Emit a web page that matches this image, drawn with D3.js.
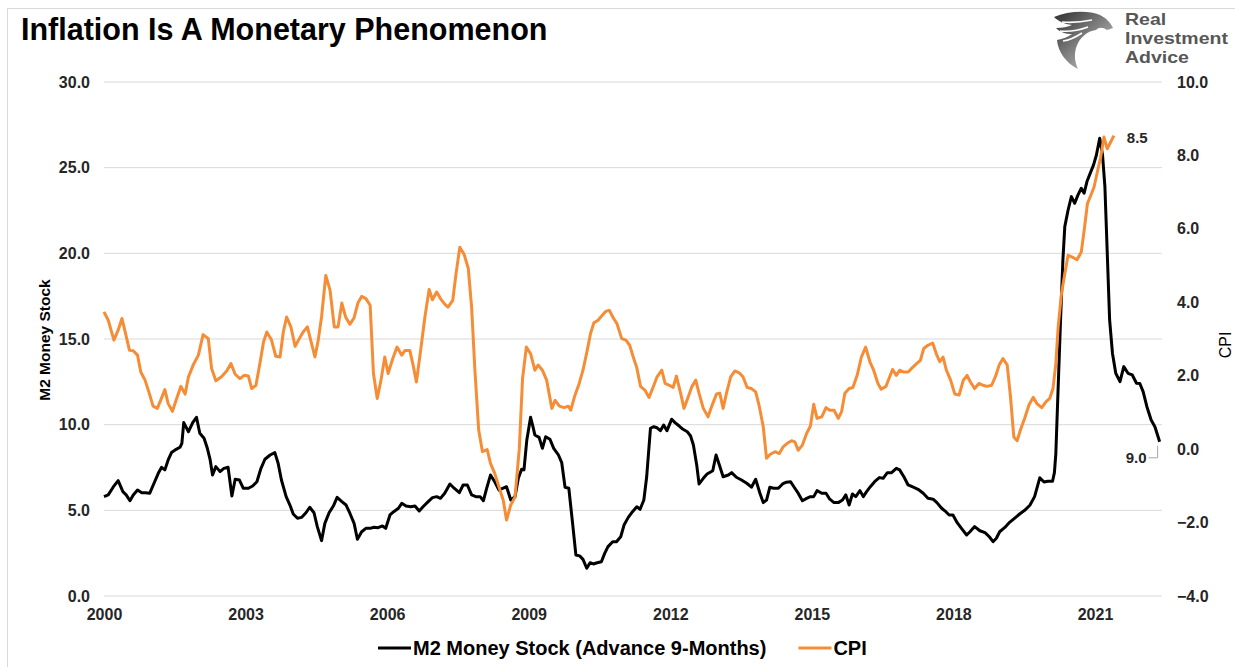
<!DOCTYPE html>
<html>
<head>
<meta charset="utf-8">
<script src="https://cdn.jsdelivr.net/npm/d3@7"></script>
<style>
  body { margin: 0; background: #fff; }
  svg { display: block; font-family: Arial, "Liberation Sans", sans-serif; }
</style>
</head>
<body>
<svg id="chart" width="1235" height="667"></svg>
<script>
// chart text
const title = "Inflation Is A Monetary Phenomenon";
const m2Label = "M2 Money Stock (Advance 9-Months)";
const cpiLabel = "CPI";
const leftTitle = "M2 Money Stock";
const rightTitle = "CPI";
const brandLines = ["Real", "Investment", "Advice"];

// ticks
const yearTicks = [0, 3, 6, 9, 12, 15, 18, 21]; // years since 2000
const leftTicks = [0, 5, 10, 15, 20, 25, 30];
const rightTicks = [-4, -2, 0, 2, 4, 6, 8, 10];

// [years since Jan 2000, value]
const m2Points = [
  [0.00,5.80],[0.09,5.90],[0.20,6.38],[0.30,6.73],[0.40,6.09],[0.47,5.90],[0.55,5.56],[0.62,5.90],[0.71,6.19],[0.80,6.03],
  [0.88,6.03],[0.97,6.00],[1.06,6.58],[1.15,7.16],[1.22,7.51],[1.29,7.36],[1.36,7.94],[1.43,8.37],[1.53,8.56],[1.61,8.68],
  [1.65,8.91],[1.69,10.12],[1.79,9.59],[1.88,10.12],[1.96,10.43],[2.03,9.50],[2.12,9.21],[2.19,8.62],[2.25,7.94],[2.30,7.06],
  [2.37,7.55],[2.46,7.26],[2.54,7.45],[2.63,7.51],[2.71,5.84],[2.78,6.81],[2.87,6.77],[2.95,6.29],[3.06,6.29],[3.15,6.42],
  [3.24,6.67],[3.32,7.40],[3.41,7.98],[3.52,8.23],[3.62,8.37],[3.69,7.75],[3.76,6.77],[3.86,5.80],[3.94,5.31],[4.01,4.79],
  [4.10,4.54],[4.19,4.59],[4.28,4.86],[4.36,5.18],[4.45,4.86],[4.52,4.05],[4.61,3.23],[4.68,4.24],[4.77,4.86],[4.86,5.25],
  [4.94,5.76],[5.04,5.51],[5.13,5.31],[5.21,4.83],[5.30,4.24],[5.37,3.31],[5.46,3.75],[5.55,3.95],[5.64,3.95],[5.72,4.01],
  [5.81,3.99],[5.90,4.09],[5.97,3.95],[6.06,4.73],[6.14,4.92],[6.24,5.12],[6.31,5.41],[6.40,5.25],[6.50,5.21],[6.59,5.25],
  [6.68,4.96],[6.76,5.21],[6.87,5.51],[6.96,5.74],[7.05,5.80],[7.13,5.70],[7.22,6.00],[7.33,6.54],[7.42,6.29],[7.53,6.03],
  [7.61,6.48],[7.70,6.48],[7.79,5.90],[7.88,5.80],[7.97,5.80],[8.04,5.56],[8.11,6.29],[8.19,7.06],[8.28,6.67],[8.37,6.19],
  [8.46,6.29],[8.53,6.38],[8.62,5.60],[8.71,5.80],[8.78,6.87],[8.85,7.40],[8.90,7.36],[8.96,9.11],[9.04,10.43],[9.09,9.88],
  [9.13,9.40],[9.22,9.26],[9.29,8.62],[9.36,9.30],[9.45,9.15],[9.53,8.62],[9.63,8.23],[9.70,7.78],[9.77,6.35],[9.85,6.29],
  [9.93,4.24],[10.00,2.39],[10.08,2.34],[10.15,2.14],[10.23,1.62],[10.30,1.94],[10.37,1.87],[10.45,1.94],[10.54,2.00],[10.61,2.49],
  [10.68,2.88],[10.78,3.17],[10.86,3.17],[10.95,3.46],[11.02,4.14],[11.11,4.59],[11.20,4.92],[11.29,5.21],[11.36,5.06],[11.44,5.60],
  [11.50,6.96],[11.58,9.79],[11.65,9.88],[11.72,9.82],[11.79,9.65],[11.86,9.98],[11.93,9.65],[12.03,10.32],[12.10,10.12],[12.19,9.92],
  [12.27,9.73],[12.36,9.59],[12.43,9.34],[12.49,8.81],[12.56,7.65],[12.61,6.54],[12.70,6.87],[12.78,7.12],[12.90,7.31],[12.97,8.23],
  [13.04,7.65],[13.12,6.96],[13.23,7.06],[13.30,7.20],[13.40,6.93],[13.51,6.77],[13.62,6.58],[13.72,6.35],[13.81,6.81],[13.90,6.00],
  [13.97,5.45],[14.04,5.60],[14.11,6.35],[14.19,6.29],[14.29,6.29],[14.38,6.54],[14.46,6.64],[14.55,6.67],[14.64,6.29],[14.71,6.00],
  [14.80,5.56],[14.89,5.70],[14.97,5.80],[15.04,5.80],[15.11,6.15],[15.21,6.00],[15.30,6.00],[15.38,5.65],[15.47,5.45],[15.56,5.45],
  [15.65,5.60],[15.72,5.90],[15.79,5.31],[15.86,5.95],[15.93,5.80],[16.02,6.15],[16.09,5.80],[16.16,6.09],[16.24,6.38],[16.33,6.67],
  [16.43,6.91],[16.51,6.87],[16.60,7.20],[16.69,7.20],[16.79,7.45],[16.86,7.36],[16.95,6.96],[17.04,6.48],[17.15,6.35],[17.25,6.23],
  [17.36,6.00],[17.46,5.70],[17.57,5.65],[17.65,5.45],[17.75,5.12],[17.84,4.92],[17.91,4.73],[17.99,4.73],[18.08,4.28],[18.17,3.95],
  [18.28,3.56],[18.35,3.75],[18.45,4.05],[18.56,3.81],[18.67,3.70],[18.76,3.46],[18.84,3.17],[18.91,3.37],[18.98,3.75],[19.09,4.00],
  [19.19,4.30],[19.30,4.55],[19.41,4.80],[19.51,5.00],[19.62,5.30],[19.72,5.80],[19.83,6.90],[19.92,6.65],[20.00,6.70],[20.10,6.70],
  [20.14,7.20],[20.17,8.30],[20.22,12.22],[20.27,16.11],[20.32,19.61],[20.36,21.56],[20.43,22.53],[20.50,23.31],[20.57,22.92],[20.64,23.41],
  [20.71,23.80],[20.77,23.51],[20.83,24.19],[20.90,24.68],[20.97,25.16],[21.03,25.74],[21.10,26.72],[21.16,25.74],[21.21,23.89],[21.26,20.01],
  [21.31,16.11],[21.37,14.17],[21.44,13.00],[21.53,12.51],[21.61,13.39],[21.70,13.00],[21.79,12.90],[21.88,12.42],[21.95,12.40],[22.02,11.93],
  [22.10,11.05],[22.19,10.27],[22.27,9.88],[22.37,9.00]
];

const cpiPoints = [
  [0.00,3.74],[0.09,3.51],[0.21,2.97],[0.30,3.24],[0.38,3.56],[0.44,3.24],[0.54,2.69],[0.62,2.68],[0.71,2.56],[0.78,2.10],
  [0.87,1.88],[0.96,1.52],[1.04,1.17],[1.13,1.11],[1.20,1.33],[1.29,1.62],[1.36,1.24],[1.45,1.03],[1.54,1.38],[1.63,1.71],
  [1.72,1.50],[1.79,1.97],[1.89,2.29],[2.00,2.56],[2.10,3.12],[2.21,3.01],[2.28,2.20],[2.37,1.86],[2.49,1.97],[2.60,2.13],
  [2.69,2.33],[2.78,2.04],[2.88,1.92],[2.97,2.01],[3.06,1.99],[3.13,1.65],[3.22,1.74],[3.31,2.38],[3.38,2.92],[3.45,3.19],
  [3.55,2.97],[3.64,2.53],[3.73,2.51],[3.80,3.19],[3.87,3.60],[3.96,3.33],[4.05,2.80],[4.14,3.01],[4.22,3.19],[4.31,3.33],
  [4.38,2.97],[4.47,2.51],[4.54,2.97],[4.61,3.60],[4.70,4.73],[4.79,4.33],[4.88,3.33],[4.96,3.33],[5.04,3.98],[5.12,3.60],
  [5.21,3.40],[5.30,3.58],[5.38,3.98],[5.46,4.16],[5.55,4.10],[5.64,3.92],[5.71,2.06],[5.79,1.38],[5.87,1.88],[5.95,2.51],
  [6.02,2.06],[6.12,2.47],[6.21,2.78],[6.31,2.56],[6.38,2.69],[6.48,2.69],[6.55,2.29],[6.62,1.83],[6.71,2.69],[6.80,3.60],
  [6.89,4.35],[6.96,4.07],[7.05,4.28],[7.13,4.10],[7.22,3.95],[7.29,3.87],[7.39,4.05],[7.46,4.78],[7.54,5.50],[7.63,5.31],
  [7.72,4.92],[7.79,3.87],[7.86,2.15],[7.94,0.52],[8.02,-0.07],[8.12,-0.01],[8.19,-0.39],[8.28,-0.66],[8.37,-1.03],[8.46,-1.39],
  [8.53,-1.93],[8.62,-1.52],[8.71,-1.30],[8.80,0.00],[8.87,1.93],[8.95,2.78],[9.04,2.60],[9.13,2.15],[9.20,2.29],[9.29,2.15],
  [9.38,1.88],[9.49,1.11],[9.56,1.33],[9.65,1.17],[9.75,1.13],[9.84,1.17],[9.89,1.06],[9.98,1.47],[10.07,1.79],[10.15,2.15],
  [10.24,2.69],[10.31,3.15],[10.38,3.44],[10.47,3.51],[10.54,3.62],[10.64,3.76],[10.71,3.78],[10.79,3.58],[10.87,3.42],[10.97,3.01],
  [11.06,2.97],[11.14,2.83],[11.21,2.53],[11.29,2.22],[11.37,1.71],[11.46,1.61],[11.55,1.41],[11.64,1.70],[11.72,1.97],[11.82,2.15],
  [11.89,1.79],[11.98,1.74],[12.06,1.68],[12.13,1.99],[12.22,1.52],[12.29,1.11],[12.38,1.42],[12.46,1.71],[12.54,1.88],[12.61,1.52],
  [12.70,1.11],[12.80,0.88],[12.90,1.24],[12.98,1.50],[13.05,1.52],[13.12,1.11],[13.19,1.52],[13.28,1.97],[13.37,2.13],[13.46,2.08],
  [13.54,1.97],[13.63,1.68],[13.72,1.65],[13.81,1.56],[13.88,1.20],[13.97,0.61],[14.04,-0.25],[14.12,-0.14],[14.22,-0.07],[14.31,-0.12],
  [14.39,0.06],[14.48,0.16],[14.57,0.23],[14.64,0.20],[14.71,-0.03],[14.80,0.11],[14.89,0.43],[14.97,0.63],[15.04,1.22],[15.11,0.84],
  [15.21,0.88],[15.30,1.13],[15.38,1.06],[15.47,1.06],[15.56,0.84],[15.63,1.02],[15.70,1.52],[15.79,1.65],[15.87,1.68],[15.96,2.01],
  [16.05,2.51],[16.14,2.78],[16.23,2.38],[16.31,2.15],[16.40,1.79],[16.47,1.63],[16.57,1.71],[16.65,1.97],[16.71,2.17],[16.79,2.01],
  [16.86,2.15],[16.95,2.10],[17.04,2.10],[17.13,2.22],[17.22,2.33],[17.30,2.42],[17.37,2.74],[17.46,2.83],[17.56,2.89],[17.64,2.59],
  [17.71,2.38],[17.78,2.51],[17.85,2.15],[17.94,1.88],[18.03,1.50],[18.12,1.47],[18.21,1.88],[18.29,2.01],[18.36,1.83],[18.45,1.65],
  [18.54,1.79],[18.63,1.74],[18.71,1.71],[18.81,1.74],[18.90,2.01],[18.97,2.29],[19.05,2.47],[19.14,2.29],[19.21,1.42],[19.28,0.33],
  [19.35,0.23],[19.42,0.52],[19.51,0.84],[19.60,1.20],[19.69,1.41],[19.77,1.24],[19.87,1.13],[19.96,1.29],[20.04,1.38],[20.11,1.65],
  [20.17,2.33],[20.22,3.33],[20.29,4.24],[20.36,4.78],[20.43,5.28],[20.52,5.23],[20.62,5.16],[20.71,5.37],[20.78,6.05],[20.84,6.69],
  [20.91,6.91],[20.98,7.14],[21.05,7.55],[21.12,7.95],[21.19,8.50],[21.26,8.18],[21.33,8.36],[21.40,8.54]
];

const m2LastLabel = "9.0";
const cpiLastLabel = "8.5";

const svg = d3.select("#chart");
const plot = { left: 104, right: 1162, top: 82, bottom: 596 };

const x = d3.scaleLinear().domain([0, 22.42]).range([plot.left, plot.right]);
const yLeft = d3.scaleLinear().domain([0, 30]).range([plot.bottom, plot.top]);
const yRight = d3.scaleLinear().domain([-4, 10]).range([plot.bottom, plot.top]);

// outer frame
svg.append("rect")
  .attr("x", 7.5).attr("y", 8.5)
  .attr("width", 1240).attr("height", 680)
  .attr("fill", "none").attr("stroke", "#d9d9d9");

// title
svg.append("text")
  .attr("x", 21).attr("y", 40)
  .attr("font-size", 30.5).attr("font-weight", "bold").attr("fill", "#000")
  .text(title);

// logo
const defs = svg.append("defs");
const grad = defs.append("linearGradient").attr("id", "eagleGrad")
  .attr("x1", "0%").attr("y1", "0%").attr("x2", "100%").attr("y2", "100%");
grad.append("stop").attr("offset", "0%").attr("stop-color", "#2e2e2e");
grad.append("stop").attr("offset", "55%").attr("stop-color", "#8a8a8a");
grad.append("stop").attr("offset", "100%").attr("stop-color", "#d4d4d4");

const logo = svg.append("g").attr("transform", "translate(1054,11)");
logo.append("path")
  .attr("d", "M0,6 C14,0 34,-1 46,4 C52,7 56,11 59,17 L53,19 C49,16 45,16 42,19 C33,20 25,27 22,37 C20,45 21,51 24,58 C12,52 4,41 3,29 C9,28 14,26 18,23 C11,23 6,21 2,17 C8,17 14,16 18,14 C10,13 4,10 0,6 Z")
  .attr("fill", "url(#eagleGrad)");
logo.append("path")
  .attr("d", "M8,11 C18,12 28,11 38,9 M6,20 C16,21 26,19 34,16 M9,30 C16,29 22,26 28,22")
  .attr("fill", "none").attr("stroke", "#fff").attr("stroke-width", 1.6);

// brand text: tall-tight stack, drawn smaller and stretched to the wide look
const brand = svg.append("g")
  .selectAll("text")
  .data(brandLines)
  .join("text")
  .attr("x", 1125)
  .attr("y", (d, i) => 25 + i * 19)
  .attr("font-size", 16.5).attr("font-weight", "bold").attr("fill", "#575757")
  .text((d) => d);
brand.each(function () {
  const w = this.getComputedTextLength();
  d3.select(this).attr("textLength", w * 19.5 / 16.5).attr("lengthAdjust", "spacingAndGlyphs");
});

// gridlines (left axis)
svg.append("g")
  .selectAll("line")
  .data(leftTicks)
  .join("line")
  .attr("x1", plot.left).attr("x2", plot.right)
  .attr("y1", (d) => yLeft(d)).attr("y2", (d) => yLeft(d))
  .attr("stroke", "#d9d9d9").attr("stroke-width", 1);

// axes
function styleAxis(g) {
  g.select(".domain").remove();
  g.selectAll("text")
    .attr("font-family", "Arial, 'Liberation Sans', sans-serif")
    .attr("font-size", 16).attr("font-weight", "bold").attr("fill", "#262626");
}

svg.append("g")
  .attr("transform", `translate(${plot.left},0)`)
  .call(d3.axisLeft(yLeft).tickValues(leftTicks).tickFormat(d3.format(".1f")).tickSize(0).tickPadding(14))
  .call(styleAxis);

svg.append("g")
  .attr("transform", `translate(${plot.right},0)`)
  .call(d3.axisRight(yRight).tickValues(rightTicks).tickFormat(d3.format(".1f")).tickSize(0).tickPadding(15))
  .call(styleAxis);

svg.append("g")
  .attr("transform", `translate(0,${plot.bottom})`)
  .call(d3.axisBottom(x).tickValues(yearTicks).tickFormat((d) => 2000 + d).tickSize(0).tickPadding(13))
  .call(styleAxis);

// axis titles
svg.append("text")
  .attr("transform", "translate(50,340) rotate(-90)")
  .attr("text-anchor", "middle")
  .attr("font-size", 15.5).attr("font-weight", "bold").attr("fill", "#000")
  .text(leftTitle);

svg.append("text")
  .attr("transform", "translate(1231,345) rotate(-90)")
  .attr("text-anchor", "middle")
  .attr("font-size", 16).attr("fill", "#000")
  .text(rightTitle);

// series
const m2Line = d3.line().x((d) => x(d[0])).y((d) => yLeft(d[1]));
const cpiLine = d3.line().x((d) => x(d[0])).y((d) => yRight(d[1]));

svg.append("path")
  .datum(m2Points)
  .attr("d", m2Line)
  .attr("fill", "none").attr("stroke", "#000")
  .attr("stroke-width", 3).attr("stroke-linejoin", "round");

svg.append("path")
  .datum(cpiPoints)
  .attr("d", cpiLine)
  .attr("fill", "none").attr("stroke", "#f68d36")
  .attr("stroke-width", 3).attr("stroke-linejoin", "round");

// end labels
const m2End = m2Points[m2Points.length - 1];
const cpiEnd = cpiPoints[cpiPoints.length - 1];

svg.append("text")
  .attr("x", x(cpiEnd[0]) + 13).attr("y", yRight(cpiEnd[1]) + 7)
  .attr("font-size", 15).attr("font-weight", "bold").attr("fill", "#262626")
  .text(cpiLastLabel);

const mx = x(m2End[0]), my = yLeft(m2End[1]);
svg.append("path")
  .attr("d", `M${mx - 11},${my + 16} H${mx - 2} V${my + 4}`)
  .attr("fill", "none").attr("stroke", "#a6a6a6").attr("stroke-width", 1);
svg.append("text")
  .attr("x", mx - 13).attr("y", my + 21)
  .attr("text-anchor", "end")
  .attr("font-size", 15).attr("font-weight", "bold").attr("fill", "#262626")
  .text(m2LastLabel);

// legend
const legend = svg.append("g").attr("transform", "translate(378,648)");
legend.append("line")
  .attr("x1", 0).attr("x2", 33).attr("y1", 0).attr("y2", 0)
  .attr("stroke", "#000").attr("stroke-width", 3);
const t1 = legend.append("text")
  .attr("x", 35).attr("y", 7)
  .attr("font-size", 20).attr("font-weight", "bold").attr("fill", "#000")
  .text(m2Label);
const x2 = 35 + t1.node().getComputedTextLength() + 32;
legend.append("line")
  .attr("x1", x2).attr("x2", x2 + 33).attr("y1", 0).attr("y2", 0)
  .attr("stroke", "#f68d36").attr("stroke-width", 3);
legend.append("text")
  .attr("x", x2 + 35).attr("y", 7)
  .attr("font-size", 20).attr("font-weight", "bold").attr("fill", "#000")
  .text(cpiLabel);
</script>
</body>
</html>
